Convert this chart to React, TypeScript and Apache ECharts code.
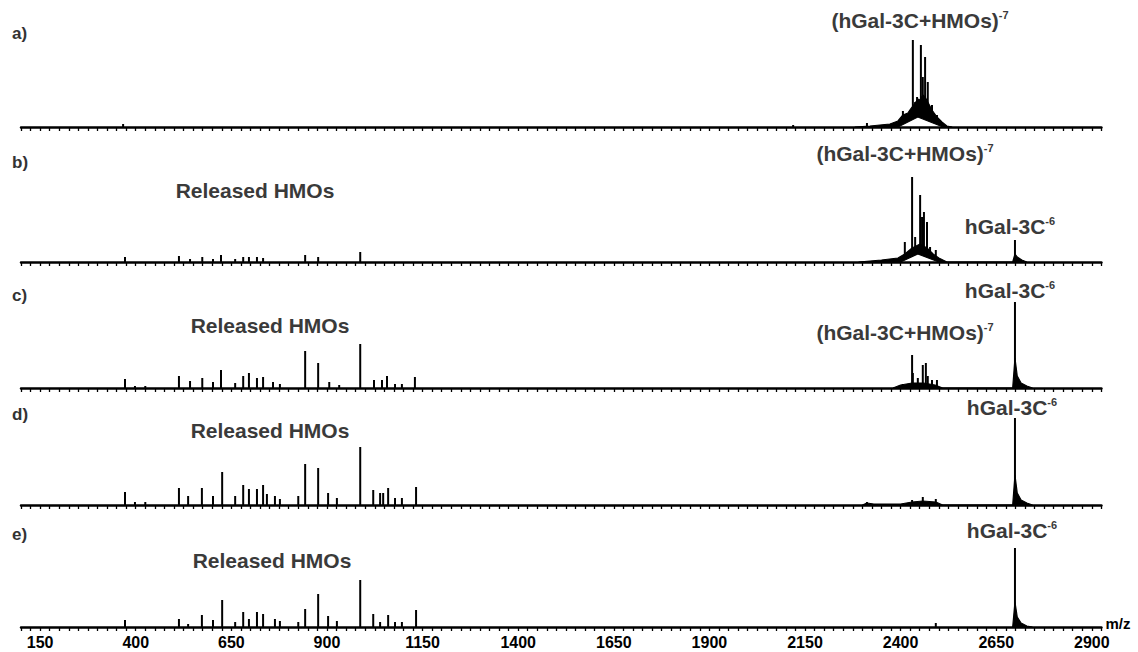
import React, { useEffect, useRef } from 'react';
import * as echarts from 'echarts';

// ---------- data (m/z, relative intensity) ----------
const TICK_LABELS = [150, 400, 650, 900, 1150, 1400, 1650, 1900, 2150, 2400, 2650, 2900];
const PANEL_LABELS = ['a)', 'b)', 'c)', 'd)', 'e)'];

// panel a
const A_PEAKS = [[367, 3], [2119, 2], [2312, 4], [2406, 16], [2419, 13], [2432, 87], [2438, 25], [2443, 30], [2453, 82], [2458, 50], [2464, 70], [2471, 45], [2482, 22], [2495, 12]];
const A_ENVELOPE = [[2280, 0], [2320, 1], [2346, 2], [2372, 3], [2393, 6], [2406, 12], [2419, 14], [2426, 18], [2438, 24], [2445, 28], [2450, 27], [2458, 32], [2464, 30], [2471, 25], [2482, 17], [2495, 10], [2508, 5], [2521, 1], [2535, 0]];
const A_HOLLOW = [[2393, 0], [2445, 10], [2511, 0]];

// panel b
const B_PEAKS = [[372, 5], [513, 6], [542, 3], [574, 5], [602, 3], [623, 7], [660, 3], [681, 5], [696, 5], [717, 5], [733, 4], [843, 7], [877, 5], [987, 10], [2411, 20], [2430, 85], [2438, 25], [2451, 67], [2456, 45], [2461, 50], [2469, 40], [2477, 15], [2492, 12], [2699, 22]];
const B_ENVELOPE = [[2290, 0], [2350, 2], [2393, 4], [2411, 8], [2430, 14], [2451, 18], [2469, 14], [2485, 8], [2500, 4], [2521, 0], [2693, 0], [2699, 8], [2705, 5], [2717, 2], [2730, 0]];
const B_HOLLOW = [[2400, 0], [2445, 8], [2500, 0]];

// panel c
const C_PEAKS = [[372, 9], [398, 2], [425, 2], [513, 12], [542, 7], [574, 10], [602, 6], [623, 18], [660, 5], [681, 12], [696, 15], [717, 10], [733, 11], [759, 6], [777, 4], [843, 37], [877, 25], [906, 6], [932, 3], [987, 44], [1023, 8], [1044, 8], [1057, 12], [1078, 4], [1096, 4], [1130, 11], [2406, 4], [2430, 33], [2432, 15], [2445, 10], [2458, 23], [2466, 25], [2471, 12], [2482, 8], [2495, 8], [2699, 86]];
const C_ENVELOPE = [[2380, 0], [2400, 3], [2430, 5], [2460, 5], [2490, 3], [2510, 0], [2693, 0], [2699, 30], [2705, 12], [2715, 5], [2730, 2], [2745, 0]];

// panel d
const D_PEAKS = [[372, 13], [398, 3], [425, 3], [513, 17], [537, 9], [573, 17], [602, 9], [626, 33], [660, 9], [681, 20], [696, 16], [717, 16], [733, 20], [743, 11], [764, 9], [777, 6], [825, 9], [843, 41], [877, 37], [903, 12], [926, 7], [987, 58], [1021, 15], [1039, 12], [1047, 12], [1060, 17], [1078, 7], [1096, 7], [1133, 18], [2312, 3], [2430, 5], [2458, 8], [2492, 6], [2699, 87]];
const D_ENVELOPE = [[2300, 0], [2312, 2], [2330, 1], [2400, 1], [2430, 3], [2458, 4], [2492, 3], [2510, 0], [2693, 0], [2699, 30], [2705, 12], [2715, 5], [2730, 2], [2745, 0]];

// panel e
const E_PEAKS = [[372, 7], [513, 8], [537, 3], [573, 12], [602, 7], [626, 27], [660, 5], [681, 15], [696, 8], [717, 15], [733, 13], [764, 8], [777, 6], [825, 5], [843, 18], [877, 33], [903, 11], [926, 6], [987, 47], [1021, 13], [1039, 5], [1060, 12], [1078, 5], [1096, 5], [1133, 17], [2492, 4], [2699, 79]];
const E_ENVELOPE = [[2693, 0], [2699, 25], [2705, 10], [2715, 4], [2730, 1], [2745, 0]];

const PANELS = [
  { peaks: A_PEAKS, envelope: A_ENVELOPE, hollow: A_HOLLOW },
  { peaks: B_PEAKS, envelope: B_ENVELOPE, hollow: B_HOLLOW },
  { peaks: C_PEAKS, envelope: C_ENVELOPE, hollow: null },
  { peaks: D_PEAKS, envelope: D_ENVELOPE, hollow: null },
  { peaks: E_PEAKS, envelope: E_ENVELOPE, hollow: null },
];

const X_MIN = 100;
const X_MAX = 2925;
const Y_MAX = 90;

// ---------- layout ----------
const FONT = '"Liberation Sans", Arial, sans-serif';
const BASELINES = [127, 262, 388, 505, 627];
const PANEL_H = 90;
const GRID_LEFT = 21;
const GRID_RIGHT = 36.6;
const PANEL_LABEL_Y = [33, 162, 295, 414, 534];

function annotation(x: number, y: number, main: string, sup?: string) {
  return {
    type: 'text',
    x,
    y,
    z: 50,
    style: {
      text: sup ? `{m|${main}}{s|${sup}}` : `{m|${main}}`,
      align: 'center',
      verticalAlign: 'middle',
      rich: {
        m: { fontSize: 21, fontWeight: 'bold', fontFamily: FONT, fill: '#3a3a3a', color: '#3a3a3a' },
        s: { fontSize: 11, fontWeight: 'bold', fontFamily: FONT, fill: '#3a3a3a', color: '#3a3a3a', verticalAlign: 'top' },
      },
    },
  };
}

export default function App() {
  const ref = useRef<HTMLDivElement>(null);

  useEffect(() => {
    if (!ref.current) return;
    const chart = echarts.init(ref.current, null, { renderer: 'svg' });

    const grid = BASELINES.map((b) => ({ left: GRID_LEFT, right: GRID_RIGHT, top: b - PANEL_H, height: PANEL_H }));

    const xAxis = BASELINES.map((_, i) => ({
      type: 'value',
      gridIndex: i,
      min: X_MIN,
      max: X_MAX,
      interval: 25,
      z: 10,
      axisLine: { show: true, onZero: false, lineStyle: { color: '#000', width: 2.5 } },
      axisTick: { show: true, length: 4, lineStyle: { color: '#000', width: 1.3 } },
      splitLine: { show: false },
      axisLabel: {
        show: i === BASELINES.length - 1,
        margin: 7,
        color: '#000',
        fontFamily: FONT,
        fontWeight: 'bold',
        fontSize: 16,
        formatter: (v: number) => (TICK_LABELS.includes(v) ? String(v) : ''),
      },
      name: i === BASELINES.length - 1 ? 'm/z' : '',
      nameLocation: 'end',
      nameGap: 4,
      nameTextStyle: {
        color: '#000',
        fontFamily: FONT,
        fontWeight: 'bold',
        fontSize: 15,
        align: 'left',
        verticalAlign: 'bottom',
        padding: [0, 0, -4, 0],
      },
    }));

    const yAxis = BASELINES.map((_, i) => ({
      type: 'value',
      gridIndex: i,
      min: 0,
      max: Y_MAX,
      show: false,
    }));

    const series: any[] = [];
    PANELS.forEach((p, i) => {
      if (p.envelope) {
        series.push({
          type: 'line',
          xAxisIndex: i,
          yAxisIndex: i,
          data: p.envelope,
          symbol: 'none',
          silent: true,
          z: 2,
          lineStyle: { color: '#000', width: 1.2 },
          areaStyle: { color: '#000', opacity: 1 },
        });
      }
      series.push({
        type: 'bar',
        xAxisIndex: i,
        yAxisIndex: i,
        data: p.peaks,
        barWidth: 2,
        silent: true,
        z: 3,
        itemStyle: { color: '#000' },
      });
      if (p.hollow) {
        series.push({
          type: 'line',
          xAxisIndex: i,
          yAxisIndex: i,
          data: p.hollow,
          symbol: 'none',
          silent: true,
          z: 4,
          lineStyle: { color: '#000', width: 1.2 },
          areaStyle: { color: '#fff', opacity: 1 },
        });
      }
    });

    const graphic: any[] = PANEL_LABELS.map((t, i) => ({
      type: 'text',
      x: 12,
      y: PANEL_LABEL_Y[i],
      z: 50,
      style: {
        text: t,
        font: `bold 17px ${FONT}`,
        fill: '#333',
        verticalAlign: 'middle',
        align: 'left',
      },
    }));
    graphic.push(
      annotation(920, 20, '(hGal-3C+HMOs)', '-7'),
      annotation(905, 153, '(hGal-3C+HMOs)', '-7'),
      annotation(255, 190, 'Released HMOs'),
      annotation(1010, 226, 'hGal-3C', '-6'),
      annotation(1010, 290, 'hGal-3C', '-6'),
      annotation(905, 332, '(hGal-3C+HMOs)', '-7'),
      annotation(270, 325, 'Released HMOs'),
      annotation(1012, 407, 'hGal-3C', '-6'),
      annotation(270, 430, 'Released HMOs'),
      annotation(1012, 530, 'hGal-3C', '-6'),
      annotation(272, 560, 'Released HMOs'),
    );

    chart.setOption({
      animation: false,
      backgroundColor: '#fff',
      grid,
      xAxis,
      yAxis,
      series,
      graphic,
    });

    return () => chart.dispose();
  }, []);

  return (
    <div
      ref={ref}
      style={{ position: 'absolute', left: 0, top: 0, width: 1138, height: 652, background: '#fff' }}
    />
  );
}
